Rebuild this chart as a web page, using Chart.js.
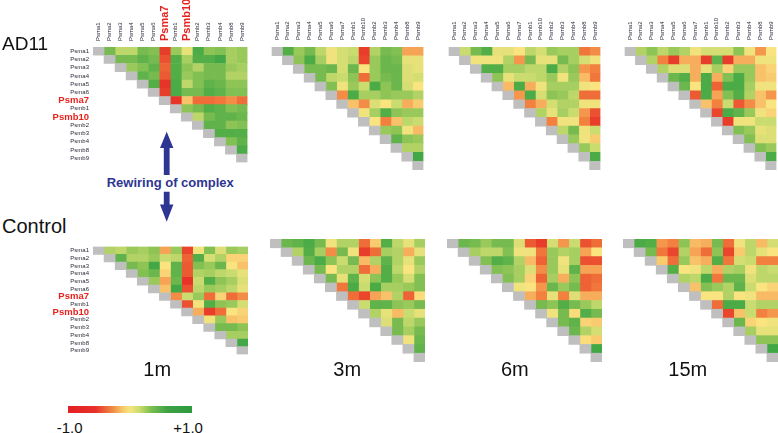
<!DOCTYPE html>
<html><head><meta charset="utf-8">
<script src="https://cdn.jsdelivr.net/npm/chart.js@4.4.0/dist/chart.umd.min.js"></script>
<style>
body{margin:0;width:778px;height:433px;overflow:hidden;background:#fff;position:relative;font-family:"Liberation Sans",Arial,sans-serif}
canvas{position:absolute}
.t{position:absolute;line-height:1;white-space:nowrap;color:#111}
</style></head><body>
<script>
const genes = ['Psma1','Psma2','Psma3','Psma4','Psma5','Psma6','Psma7','Psmb1','Psmb10','Psmb2','Psmb3','Psmb4','Psmb8','Psmb9'];
const highlighted = ['Psma7','Psmb10'];
const timepoints = ['1m','3m','6m','15m'];
const groups = ['AD11','Control'];
const scaleLabels = ['-1.0','+1.0'];

// upper-triangle correlations: row i lists columns i+1..13
const ad11_1m = [
 [0.6,0.3,0.3,0.6,0.55,-0.85,0.45,0.1,0.8,0.5,0.55,0.4,0.45],
 [0.6,0.6,0.7,0.6,-0.75,0.75,0.4,0.75,0.75,0.85,0.4,0.45],
 [0.45,0.55,0.7,-0.65,0.75,0.5,0.35,0.6,0.6,0.45,0.4],
 [0.7,0.6,-0.7,0.75,0.45,0.55,0.6,0.6,0.35,0.35],
 [0.75,-0.9,0.8,0.3,0.55,0.7,0.65,0.5,0.5],
 [-0.85,0.8,0.6,0.6,0.75,0.7,0.55,0.55],
 [-0.9,-0.2,-0.6,-0.6,-0.55,-0.45,-0.6],
 [0.5,0.6,0.75,0.7,0.55,0.6],
 [0.3,0.6,0.7,0.7,0.65],
 [0.7,0.7,0.5,0.55],
 [0.75,0.75,0.75],
 [0.55,0.7],
 [0.8]
];
const control_1m = [
 [0.35,0.3,0.45,0.4,0.5,-0.35,0.45,-0.8,0.05,0.55,0.15,0.45,0.4],
 [0.7,0.35,0.35,0.45,0.25,0.3,-0.65,0.75,0.2,0.35,-0.1,-0.1],
 [0.6,0.5,0.85,0.0,0.7,-0.7,0.55,0.45,0.65,0.0,-0.2],
 [0.55,0.65,-0.1,0.7,-0.7,0.35,0.4,0.3,0.25,0.1],
 [0.45,-0.35,0.65,-0.9,0.25,0.75,0.5,0.4,0.15],
 [-0.2,0.85,-0.75,0.3,0.45,0.4,0.3,0.1],
 [-0.45,0.25,0.45,-0.6,-0.1,-0.6,-0.45],
 [-0.75,0.05,0.75,0.5,0.45,0.2],
 [-0.3,-0.85,-0.6,0.0,-0.1],
 [0.05,0.45,-0.2,-0.15],
 [0.6,0.6,0.5],
 [0.4,0.4],
 [0.85]
];
const ad11_3m = [
 [0.75,0.45,0.6,0.3,0.05,0.2,0.25,-0.85,0.35,0.6,0.55,-0.35,-0.35],
 [0.5,0.8,0.4,0.05,0.2,0.3,-0.8,0.45,0.65,0.6,0.1,0.1],
 [0.6,0.6,0.65,0.2,0.65,0.0,0.45,0.65,0.65,0.15,0.1],
 [0.6,0.3,0.25,0.5,-0.6,0.45,0.6,0.65,0.15,0.2],
 [0.55,0.05,0.45,0.25,0.8,0.5,0.65,0.2,0.0],
 [-0.45,0.8,0.4,0.4,0.5,0.45,0.45,0.35],
 [-0.2,-0.45,0.15,0.0,0.25,-0.3,-0.15],
 [0.05,0.4,0.75,0.5,0.45,0.45],
 [0.0,-0.5,-0.2,0.3,0.25],
 [0.45,0.5,0.05,-0.25],
 [0.7,0.5,0.45],
 [0.35,0.35],
 [0.85]
];
const control_3m = [
 [0.65,0.7,0.8,0.6,0.05,0.35,0.35,-0.6,-0.15,0.75,0.3,0.1,0.4],
 [0.35,0.75,0.4,-0.45,0.6,0.05,-0.85,-0.6,0.4,0.35,-0.3,0.1],
 [0.65,0.8,0.5,0.25,0.6,-0.25,0.35,0.7,0.35,0.1,0.45],
 [0.6,0.0,0.35,0.35,-0.6,-0.3,0.75,0.3,0.0,0.35],
 [0.6,0.1,0.7,0.2,0.5,0.75,0.45,0.2,0.55],
 [-0.55,0.8,0.25,0.8,0.4,0.4,0.45,0.55],
 [-0.6,-0.8,-0.35,-0.2,0.35,-0.65,-0.05],
 [0.25,0.7,0.7,0.5,0.45,0.6],
 [0.35,0.1,-0.25,0.25,0.1],
 [0.15,0.6,0.3,0.45],
 [0.6,0.4,0.6],
 [0.05,0.65],
 [0.7]
];
const ad11_6m = [
 [0.25,0.6,0.75,0.1,0.1,0.0,0.3,0.2,0.45,0.4,0.4,-0.55,-0.45],
 [0.05,0.05,0.05,0.35,-0.4,0.6,0.1,0.1,0.6,0.4,0.2,0.05],
 [0.75,0.75,0.4,0.4,0.3,0.3,0.8,0.35,0.5,-0.4,-0.5],
 [0.5,0.1,0.25,0.25,0.3,0.45,0.05,0.45,-0.25,-0.55],
 [-0.25,0.8,-0.3,0.05,0.4,0.4,0.4,0.05,0.0],
 [-0.4,0.8,0.2,0.5,0.45,0.3,-0.6,-0.6],
 [-0.5,-0.3,0.2,0.35,0.35,0.05,0.05],
 [0.35,0.1,0.4,0.25,-0.4,-0.75],
 [-0.5,0.05,0.05,-0.5,-0.85],
 [0.3,0.6,0.05,0.25],
 [0.45,0.05,-0.15],
 [0.45,0.25],
 [0.8]
];
const control_6m = [
 [0.65,0.6,0.45,0.6,0.6,0.15,-0.7,-0.85,0.2,-0.4,0.25,-0.75,-0.6],
 [0.4,0.3,0.3,0.55,0.05,0.05,-0.55,0.45,0.35,0.4,-0.35,0.0],
 [0.55,0.75,0.7,0.35,-0.25,-0.65,0.45,0.05,0.4,-0.75,-0.75],
 [0.55,0.5,0.4,0.15,-0.45,0.45,0.1,0.7,-0.35,-0.35],
 [0.55,0.4,-0.1,-0.65,0.4,-0.3,0.5,-0.65,-0.6],
 [0.05,0.0,-0.4,0.65,0.45,0.6,-0.65,-0.55],
 [-0.3,-0.5,0.1,-0.5,0.15,-0.3,-0.3],
 [0.6,0.5,0.75,0.6,0.45,0.3],
 [0.05,0.6,-0.05,0.75,0.6],
 [0.6,0.7,-0.1,-0.15],
 [0.65,0.35,0.2],
 [-0.05,-0.15],
 [0.85]
];
const ad11_15m = [
 [0.35,0.5,0.3,0.45,0.35,0.05,0.2,0.2,0.2,0.5,0.05,-0.4,0.0],
 [0.35,-0.5,-0.85,-0.3,-0.3,-0.85,0.7,-0.85,-0.3,-0.3,0.05,0.05],
 [0.35,0.15,0.15,-0.3,0.1,0.4,-0.1,0.45,0.45,-0.2,-0.1],
 [0.65,0.75,-0.3,0.8,-0.3,0.55,0.8,0.45,-0.2,-0.15],
 [0.65,0.0,0.8,-0.65,0.8,0.8,0.4,0.05,0.05],
 [-0.7,0.8,-0.35,0.55,0.75,0.35,-0.2,-0.4],
 [-0.2,-0.5,0.25,-0.7,-0.45,-0.2,0.0],
 [-0.8,0.8,0.7,0.45,0.05,-0.1],
 [-0.85,0.05,0.05,0.25,0.25],
 [0.55,0.45,0.1,0.15],
 [0.55,0.15,0.15],
 [0.55,0.45],
 [0.8]
];
const control_15m = [
 [0.8,0.75,-0.4,-0.5,0.5,-0.25,-0.3,0.6,-0.6,0.05,0.3,-0.25,0.2],
 [0.6,-0.55,-0.8,0.35,-0.35,-0.6,0.5,-0.8,-0.15,0.3,0.1,0.0],
 [-0.15,-0.6,0.45,-0.2,-0.3,0.75,-0.55,0.2,0.25,-0.5,-0.5],
 [0.75,0.0,0.05,0.3,-0.3,0.35,0.4,0.05,0.3,0.25],
 [0.35,0.3,0.8,-0.55,0.65,0.65,0.15,0.3,0.3],
 [-0.2,0.55,0.45,0.35,0.7,0.25,0.0,-0.1],
 [0.0,0.0,0.35,0.0,0.05,-0.25,-0.25],
 [-0.6,0.8,0.8,0.25,0.35,0.35],
 [-0.8,-0.2,0.25,-0.5,-0.4],
 [0.65,-0.1,0.0,0.05],
 [0.4,0.1,0.1],
 [0.5,0.5],
 [0.85]
];

const GRAY = '#bfbfbf';
const RED = '#e8221c';
const STOPS = [
 [-1,[228,32,34]],[-0.5,[242,128,62]],[-0.25,[248,186,100]],[0,[250,228,128]],
 [0.25,[202,220,112]],[0.5,[142,196,86]],[0.75,[84,174,72]],[1,[40,160,64]]
];
function cellColor(v){
  for(let k=1;k<STOPS.length;k++){
    if(v<=STOPS[k][0]){
      const [a,ca]=STOPS[k-1],[b,cb]=STOPS[k];
      const t=(v-a)/(b-a);
      const c=ca.map((x,i)=>Math.round(x+(cb[i]-x)*t));
      return `rgb(${c[0]},${c[1]},${c[2]})`;
    }
  }
  const c=STOPS[STOPS.length-1][1];return `rgb(${c[0]},${c[1]},${c[2]})`;
}
function buildDatasets(m){
  const ds=[];
  for(let j=0;j<genes.length;j++){
    const data=[],colors=[];
    for(let i=0;i<genes.length;i++){
      if(j<i){data.push(null);colors.push('rgba(0,0,0,0)');}
      else{data.push([j,j+1]);colors.push(j===i?GRAY:cellColor(m[i][j-i-1]));}
    }
    ds.push({data,backgroundColor:colors,borderWidth:0,barPercentage:1,categoryPercentage:1,grouped:false,xAxisID:'x',yAxisID:'y'});
  }
  return ds;
}
const FONT='"Liberation Sans", Arial, sans-serif';
function isHi(i){return highlighted.includes(genes[i]);}

function makeChart(m,left,top,opt){
  const rowW=opt.rows?93:0, colH=opt.cols?47:0;
  const cv=document.createElement('canvas');
  const W=rowW+155,H=colH+123;
  cv.width=W;cv.height=H;cv.style.left=(left-rowW)+'px';cv.style.top=(top-colH)+'px';
  cv.style.width=W+'px';cv.style.height=H+'px';
  document.body.appendChild(cv);
  const y={type:'category',display:!!opt.rows,offset:true,grid:{display:false,drawTicks:false},border:{display:false},
    ticks:{autoSkip:false,padding:4,
      font:c=>isHi(c.index)?{family:FONT,size:9.5,weight:'bold'}:{family:FONT,size:6},
      color:c=>isHi(c.index)?RED:'#2a2a3a'}};
  if(opt.rows) y.afterFit=s=>{s.width=rowW;};
  const xc={type:'category',labels:genes,position:'top',display:!!opt.cols,offset:true,grid:{display:false,drawTicks:false},border:{display:false},
    ticks:{autoSkip:false,minRotation:90,maxRotation:90,padding:opt.big?6:7,
      font:c=>(opt.big&&isHi(c.index))?{family:FONT,size:11,weight:'bold',lineHeight:0.01}:{family:FONT,size:6,lineHeight:0.01},
      color:c=>(opt.big&&isHi(c.index))?RED:'#2a2a3a'}};
  if(opt.cols) xc.afterFit=s=>{s.height=colH;};
  new Chart(cv,{type:'bar',data:{labels:genes,datasets:buildDatasets(m)},
    options:{indexAxis:'y',responsive:false,animation:false,devicePixelRatio:1,
      layout:{padding:0},
      plugins:{legend:{display:false},tooltip:{enabled:false}},
      scales:{x:{type:'linear',min:0,max:14,display:false},y,xc}}});
}

const colX=[93,270,447,623];
const rowY=[47,239];
const mats=[[ad11_1m,ad11_3m,ad11_6m,ad11_15m],[control_1m,control_3m,control_6m,control_15m]];
for(let g=0;g<2;g++)for(let t=0;t<4;t++){
  makeChart(mats[g][t],colX[t],rowY[g],{rows:t===0,cols:g===0,big:g===0&&t===0});
}

function txt(s,l,t,size,extra){
  const d=document.createElement('div');d.className='t';d.textContent=s;
  d.style.left=l+'px';d.style.top=t+'px';d.style.fontSize=size+'px';
  if(extra)Object.assign(d.style,extra);
  document.body.appendChild(d);
}
txt(groups[0],2,34,19);
txt(groups[1],2,216,20);
const tpX=[143.3,333.3,501,668.3];
timepoints.forEach((s,i)=>txt(s,tpX[i],359,20));
txt('Rewiring of complex',106.7,176.3,13,{fontWeight:'bold',color:'#2e3592'});
txt(scaleLabels[0],56.7,419.7,15);
txt(scaleLabels[1],173.3,419.7,15);

const bar=document.createElement('div');
Object.assign(bar.style,{position:'absolute',left:'67.7px',top:'406px',width:'124px',height:'6.7px',
 background:'linear-gradient(to right,#e41e25 0%,#e8302a 22%,#f08a45 36%,#f6c766 44%,#f5e67e 50%,#c8db6a 58%,#7cbf50 67%,#3fa245 80%,#2e9a3f 100%)'});
document.body.appendChild(bar);

const ns='http://www.w3.org/2000/svg';
const svg=document.createElementNS(ns,'svg');
svg.setAttribute('width','778');svg.setAttribute('height','433');
Object.assign(svg.style,{position:'absolute',left:'0',top:'0'});
svg.innerHTML='<polygon fill="#2e3592" points="166.7,131.7 173.4,148 169.6,148 169.6,175 163.8,175 163.8,148 160,148"/>'+
 '<polygon fill="#2e3592" points="163.8,191.7 169.6,191.7 169.6,204.5 173.4,204.5 166.7,221.7 160,204.5 163.8,204.5"/>';
document.body.appendChild(svg);
</script>
</body></html>
